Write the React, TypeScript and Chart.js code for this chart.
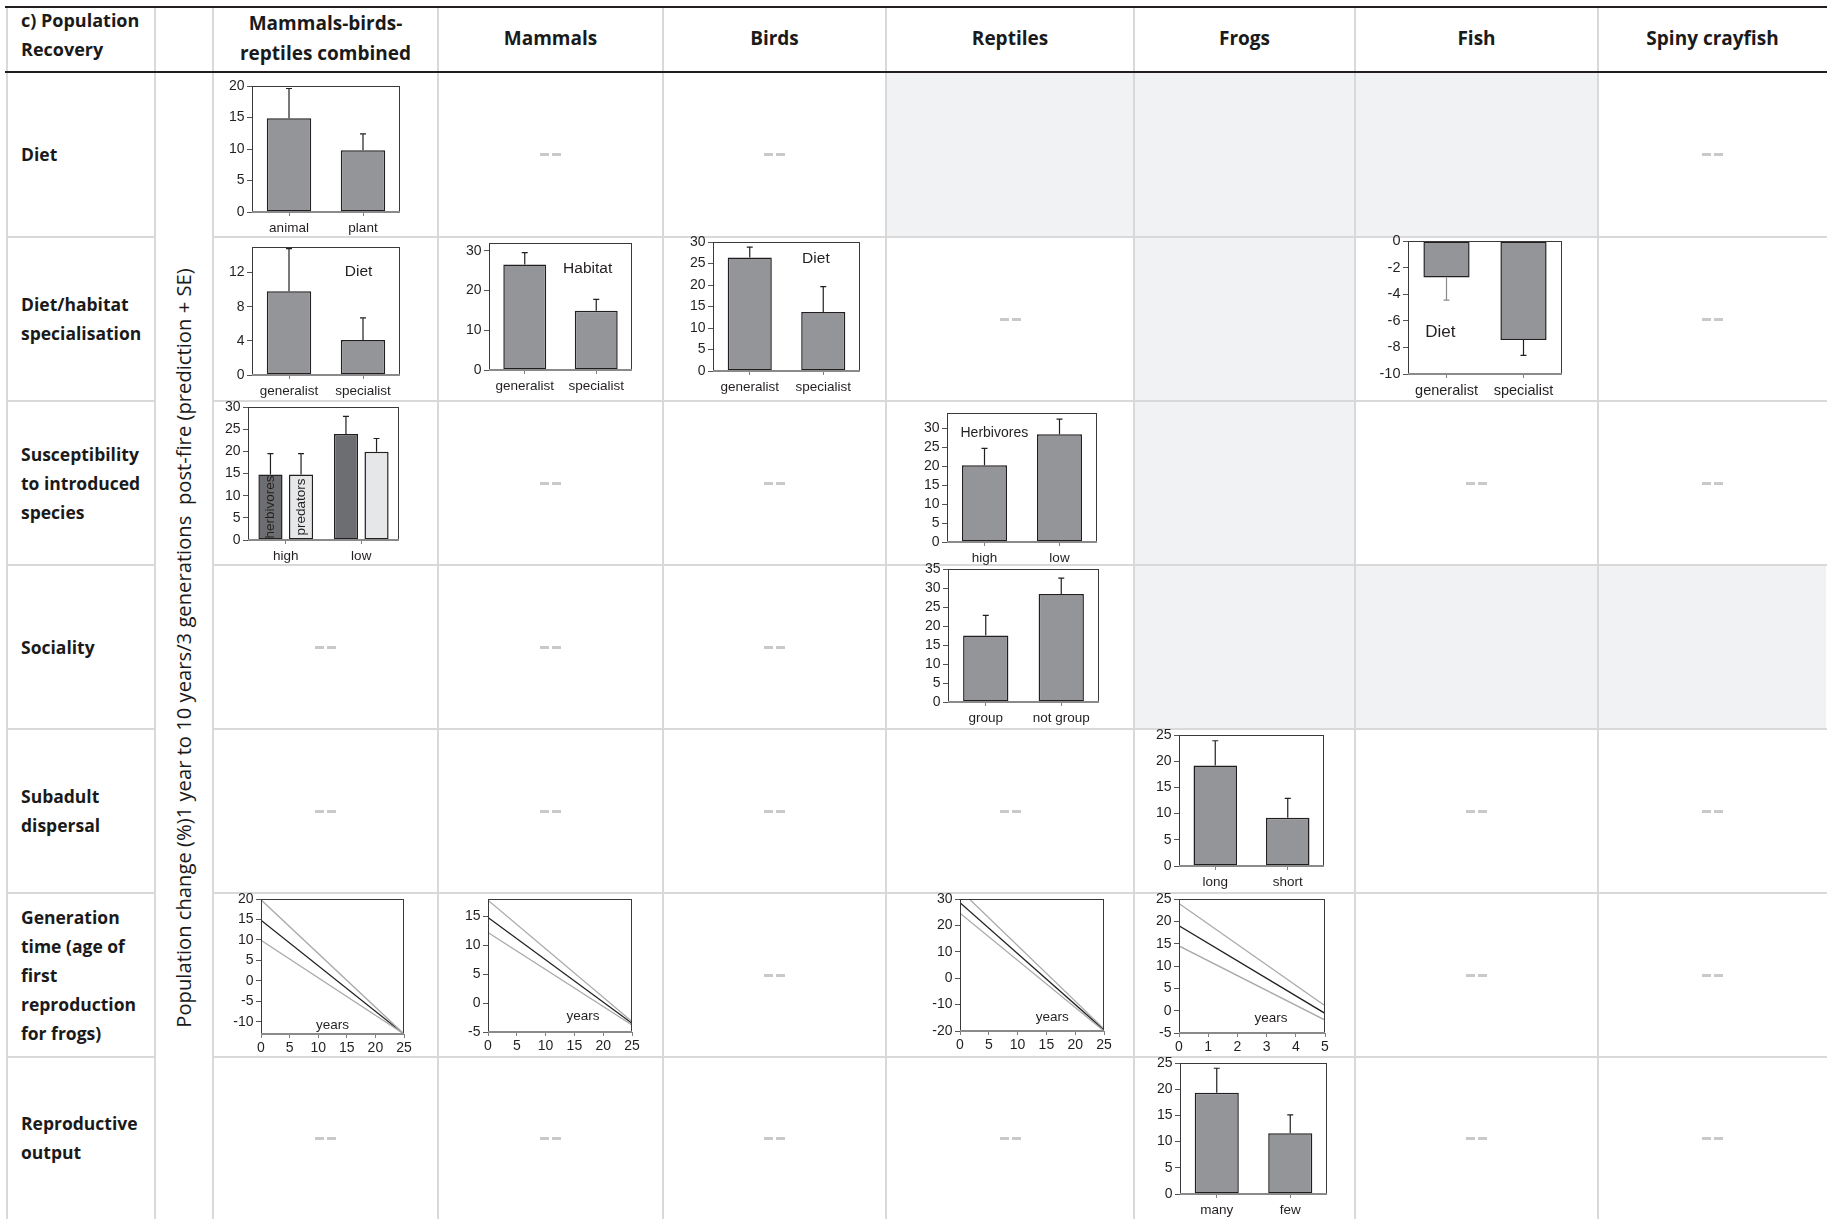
import React, { useEffect, useRef } from 'react';
import { Chart, registerables } from 'chart.js';
Chart.register(...registerables);

// ---------------- table text ----------------
const cornerLabel = 'c) Population\nRecovery';
const columnHeaders = ['Mammals-birds-\nreptiles combined', 'Mammals', 'Birds', 'Reptiles', 'Frogs', 'Fish', 'Spiny crayfish'];
const rowLabels = [
  'Diet',
  'Diet/habitat\nspecialisation',
  'Susceptibility\nto introduced\nspecies',
  'Sociality',
  'Subadult\ndispersal',
  'Generation\ntime (age of\nfirst\nreproduction\nfor frogs)',
  'Reproductive\noutput',
];
const axisTitle = 'Population change (%)1 year to 10 years/3 generations  post-fire (prediction + SE)';
// c = chart, d = no data (dash), s = not applicable (shaded)
const cellKinds = [
  ['c', 'd', 'd', 's', 's', 's', 'd'],
  ['c', 'c', 'c', 'd', 's', 'c', 'd'],
  ['c', 'd', 'd', 'c', 's', 'd', 'd'],
  ['d', 'd', 'd', 'c', 's', 's', 's'],
  ['d', 'd', 'd', 'd', 'c', 'd', 'd'],
  ['c', 'c', 'd', 'c', 'c', 'd', 'd'],
  ['d', 'd', 'd', 'd', 'c', 'd', 'd'],
];

// ---------------- data ----------------
const dietCats = ['animal', 'plant'];
const dietAllMeans = [14.9, 9.8];
const dietAllUpper = [19.6, 12.4];

const specCats = ['generalist', 'specialist'];
const specAllMeans = [9.8, 4.1];
const specAllUpper = [14.8, 6.7];
const specMammalMeans = [26.6, 14.9];
const specMammalUpper = [29.6, 17.8];
const specBirdMeans = [26.4, 13.7];
const specBirdUpper = [28.8, 19.6];
const specFishMeans = [-2.75, -7.45];
const specFishLower = [-4.45, -8.6];

const suscCats = ['high', 'low'];
const suscAllHerbMeans = [14.8, 23.9];
const suscAllHerbUpper = [19.5, 27.9];
const suscAllPredMeans = [14.8, 19.9];
const suscAllPredUpper = [19.5, 22.9];
const suscReptMeans = [20.2, 28.4];
const suscReptUpper = [24.7, 32.4];

const socCats = ['group', 'not group'];
const socReptMeans = [17.5, 28.4];
const socReptUpper = [22.8, 32.6];

const dispCats = ['long', 'short'];
const dispFrogMeans = [19.2, 9.2];
const dispFrogUpper = [23.9, 12.9];

const reproCats = ['many', 'few'];
const reproFrogMeans = [19.3, 11.6];
const reproFrogUpper = [24.0, 15.1];

const genYears25 = [0, 25];
const genYears5 = [0, 5];
const genAllUpper = [19.8, -13];
const genAllMid = [14.8, -13];
const genAllLower = [9.9, -13];
const genMammalUpper = [17.8, -3.2];
const genMammalMid = [14.8, -3.5];
const genMammalLower = [12.2, -3.8];
const genReptUpper = [33.4, -19.2];
const genReptMid = [28.6, -19.6];
const genReptLower = [24.6, -20];
const genFrogUpper = [24.0, 1.1];
const genFrogMid = [19.0, -0.6];
const genFrogLower = [14.5, -2.1];

// tick labels
const ticks0to20 = [0, 5, 10, 15, 20];
const ticks0to12by4 = [0, 4, 8, 12];
const ticks0to30by10 = [0, 10, 20, 30];
const ticks0to30 = [0, 5, 10, 15, 20, 25, 30];
const ticks0to35 = [0, 5, 10, 15, 20, 25, 30, 35];
const ticks0to25 = [0, 5, 10, 15, 20, 25];
const ticksNeg10to0 = [-10, -8, -6, -4, -2, 0];
const ticksNeg10to20 = [-10, -5, 0, 5, 10, 15, 20];
const ticksNeg5to15 = [-5, 0, 5, 10, 15];
const ticksNeg20to30 = [-20, -10, 0, 10, 20, 30];
const ticksNeg5to25 = [-5, 0, 5, 10, 15, 20, 25];
const yearTicks25 = [0, 5, 10, 15, 20, 25];
const yearTicks5 = [0, 1, 2, 3, 4, 5];

// ---------------- layout & style ----------------
const colX = [7, 155, 213, 438, 663, 886, 1134, 1355, 1598, 1827];
const rowY = [72, 237, 401, 565, 729, 893, 1057, 1219];
const CHART_FONT = '"Liberation Sans", Arial, Helvetica, sans-serif';
const TABLE_FONT = '"Open Sans", "Noto Sans", sans-serif';
const GREY = '#939598';
const DARK = '#6d6e71';
const LIGHT = '#e6e7e8';
const INK = '#231f20';
const SOFT = '#a7a9ac';

type BarSet = { data: number[]; err: number[]; fill: string; errColor?: string[] };
type LineSet = { y: number[]; color: string };
type Note = { text: string; fx: number; y: number; size: number; align?: CanvasTextAlign };
type Spec = {
  box: [number, number, number, number];
  kind: 'bar' | 'line';
  labels?: string[];
  bars?: BarSet[];
  xs?: number[];
  lines?: LineSet[];
  yMin: number; yMax: number; yTicks: number[];
  xMin?: number; xMax?: number; xTicks?: number[];
  notes?: Note[];
  barText?: { ds: number; idx: number; text: string; size: number }[];
  fontSize?: number;
  catPct?: number; barPct?: number;
};

const specs: Spec[] = [
  { box: [252, 86, 400, 212], kind: 'bar', labels: dietCats, bars: [{ data: dietAllMeans, err: dietAllUpper, fill: GREY }], yMin: 0, yMax: 20, yTicks: ticks0to20 },
  { box: [252, 247, 400, 375], kind: 'bar', labels: specCats, bars: [{ data: specAllMeans, err: specAllUpper, fill: GREY }], yMin: 0, yMax: 15, yTicks: ticks0to12by4,
    notes: [{ text: 'Diet', fx: 0.72, y: 12.1, size: 15.5 }] },
  { box: [489, 243, 632, 370], kind: 'bar', labels: specCats, bars: [{ data: specMammalMeans, err: specMammalUpper, fill: GREY }], yMin: 0, yMax: 32, yTicks: ticks0to30by10,
    notes: [{ text: 'Habitat', fx: 0.69, y: 25.6, size: 15.5 }] },
  { box: [713, 242, 860, 371], kind: 'bar', labels: specCats, bars: [{ data: specBirdMeans, err: specBirdUpper, fill: GREY }], yMin: 0, yMax: 30, yTicks: ticks0to30,
    notes: [{ text: 'Diet', fx: 0.70, y: 26.2, size: 15.5 }] },
  { box: [1408, 241, 1562, 374], kind: 'bar', labels: specCats, bars: [{ data: specFishMeans, err: specFishLower, fill: GREY, errColor: ['#8a8a8a', INK] }], yMin: -10, yMax: 0, yTicks: ticksNeg10to0,
    notes: [{ text: 'Diet', fx: 0.21, y: -6.85, size: 17 }], fontSize: 14.5 },
  { box: [248, 407, 399, 540], kind: 'bar', labels: suscCats,
    bars: [{ data: suscAllHerbMeans, err: suscAllHerbUpper, fill: DARK }, { data: suscAllPredMeans, err: suscAllPredUpper, fill: LIGHT }],
    yMin: 0, yMax: 30, yTicks: ticks0to30, catPct: 0.81, barPct: 0.79,
    barText: [{ ds: 0, idx: 0, text: 'herbivores', size: 13.5 }, { ds: 1, idx: 0, text: 'predators', size: 13.5 }] },
  { box: [947, 413, 1097, 542], kind: 'bar', labels: suscCats, bars: [{ data: suscReptMeans, err: suscReptUpper, fill: GREY }], yMin: 0, yMax: 34, yTicks: ticks0to30,
    notes: [{ text: 'Herbivores', fx: 0.09, y: 28.8, size: 14, align: 'left' }] },
  { box: [948, 569, 1099, 702], kind: 'bar', labels: socCats, bars: [{ data: socReptMeans, err: socReptUpper, fill: GREY }], yMin: 0, yMax: 35, yTicks: ticks0to35 },
  { box: [1179, 735, 1324, 866], kind: 'bar', labels: dispCats, bars: [{ data: dispFrogMeans, err: dispFrogUpper, fill: GREY }], yMin: 0, yMax: 25, yTicks: ticks0to25 },
  { box: [261, 899, 404, 1034], kind: 'line', xs: genYears25,
    lines: [{ y: genAllUpper, color: SOFT }, { y: genAllLower, color: SOFT }, { y: genAllMid, color: INK }],
    yMin: -13, yMax: 20, yTicks: ticksNeg10to20, xMin: 0, xMax: 25, xTicks: yearTicks25,
    notes: [{ text: 'years', fx: 0.5, y: -10.8, size: 13.5 }] },
  { box: [488, 899, 632, 1032], kind: 'line', xs: genYears25,
    lines: [{ y: genMammalUpper, color: SOFT }, { y: genMammalLower, color: SOFT }, { y: genMammalMid, color: INK }],
    yMin: -5, yMax: 18, yTicks: ticksNeg5to15, xMin: 0, xMax: 25, xTicks: yearTicks25,
    notes: [{ text: 'years', fx: 0.66, y: -2.3, size: 13.5 }] },
  { box: [960, 899, 1104, 1031], kind: 'line', xs: genYears25,
    lines: [{ y: genReptUpper, color: SOFT }, { y: genReptLower, color: SOFT }, { y: genReptMid, color: INK }],
    yMin: -20, yMax: 30, yTicks: ticksNeg20to30, xMin: 0, xMax: 25, xTicks: yearTicks25,
    notes: [{ text: 'years', fx: 0.64, y: -14.8, size: 13.5 }] },
  { box: [1179, 899, 1325, 1033], kind: 'line', xs: genYears5,
    lines: [{ y: genFrogUpper, color: SOFT }, { y: genFrogLower, color: SOFT }, { y: genFrogMid, color: INK }],
    yMin: -5, yMax: 25, yTicks: ticksNeg5to25, xMin: 0, xMax: 5, xTicks: yearTicks5,
    notes: [{ text: 'years', fx: 0.63, y: -1.7, size: 13.5 }] },
  { box: [1180, 1063, 1327, 1194], kind: 'bar', labels: reproCats, bars: [{ data: reproFrogMeans, err: reproFrogUpper, fill: GREY }], yMin: 0, yMax: 25, yTicks: ticks0to25 },
];

const PAD = { l: 46, r: 12, t: 8, b: 30 };

const decorPlugin = {
  id: 'decor',
  afterDatasetsDraw(chart: any, _args: any, opts: any) {
    const ctx = chart.ctx as CanvasRenderingContext2D;
    const a = chart.chartArea;
    const ys = chart.scales.y;
    ctx.save();
    (opts.barText || []).forEach((bt: any) => {
      const el = chart.getDatasetMeta(bt.ds).data[bt.idx];
      const cy = (el.y + el.base) / 2;
      ctx.save();
      ctx.translate(el.x, cy);
      ctx.rotate(-Math.PI / 2);
      ctx.font = `${bt.size}px ${CHART_FONT}`;
      ctx.fillStyle = INK;
      ctx.textAlign = 'center';
      ctx.textBaseline = 'middle';
      ctx.fillText(bt.text, 0, 0);
      ctx.restore();
    });
    // frame
    const L = Math.round(a.left), T = Math.round(a.top), R = Math.round(a.right), B = Math.round(a.bottom);
    ctx.strokeStyle = '#3a3a3a';
    ctx.lineWidth = 1;
    ctx.strokeRect(L + 0.5, T + 0.5, R - L - 1, B - T);
    ctx.strokeStyle = '#8a8a8a';
    ctx.lineWidth = 2;
    ctx.beginPath();
    ctx.moveTo(L, B);
    ctx.lineTo(R, B);
    ctx.stroke();
    // error bars
    (opts.errors || []).forEach((errs: number[], di: number) => {
      const meta = chart.getDatasetMeta(di);
      errs.forEach((ev, i) => {
        const el = meta.data[i];
        const ye = ys.getPixelForValue(ev);
        const cols = opts.errColors ? opts.errColors[di] : null;
        ctx.strokeStyle = (cols && cols[i]) || INK;
        ctx.lineWidth = 1.2;
        ctx.beginPath();
        ctx.moveTo(el.x, el.y);
        ctx.lineTo(el.x, ye);
        ctx.moveTo(el.x - 3, ye);
        ctx.lineTo(el.x + 3, ye);
        ctx.stroke();
      });
    });
    (opts.notes || []).forEach((n: Note) => {
      ctx.font = `${n.size}px ${CHART_FONT}`;
      ctx.fillStyle = INK;
      ctx.textAlign = n.align || 'center';
      ctx.textBaseline = 'middle';
      ctx.fillText(n.text, a.left + n.fx * (a.right - a.left), ys.getPixelForValue(n.y));
    });
    ctx.restore();
  },
};

function buildConfig(s: Spec): any {
  const xFont = { family: CHART_FONT, size: s.fontSize ?? 13.5 };
  const yFont = { family: CHART_FONT, size: s.fontSize ?? 14 };
  const fitY = (ax: any) => { ax.width = PAD.l; ax.paddingTop = 0; ax.paddingBottom = 0; ax.paddingLeft = 0; ax.paddingRight = 0; };
  const fitX = (ax: any) => { ax.height = PAD.b; ax.paddingTop = 0; ax.paddingBottom = 0; ax.paddingLeft = 0; ax.paddingRight = 0; };
  const y = {
    type: 'linear', min: s.yMin, max: s.yMax,
    afterBuildTicks: (ax: any) => { ax.ticks = s.yTicks.map((v) => ({ value: v })); },
    afterFit: fitY,
    grid: { display: true, drawOnChartArea: false, drawTicks: true, tickLength: 5, color: '#555', lineWidth: 1 },
    border: { display: false },
    ticks: { font: yFont, color: INK, padding: 2.5, autoSkip: false, callback: (v: any) => String(v) },
  };
  const common = {
    responsive: false, maintainAspectRatio: false, animation: false, devicePixelRatio: 1, events: [],
    layout: { padding: { left: 0, right: PAD.r, top: PAD.t, bottom: 0 } },
    plugins: {
      legend: { display: false }, tooltip: { enabled: false }, title: { display: false },
      decor: {
        errors: s.bars ? s.bars.map((b) => b.err) : [],
        errColors: s.bars ? s.bars.map((b) => b.errColor || null) : [],
        notes: s.notes || [],
        barText: s.barText || [],
      },
    },
  };
  if (s.kind === 'bar') {
    return {
      type: 'bar',
      data: {
        labels: s.labels,
        datasets: (s.bars || []).map((b) => ({
          data: b.data, backgroundColor: b.fill, borderColor: INK, borderWidth: 1.5, borderSkipped: false,
          categoryPercentage: s.catPct ?? 1, barPercentage: s.barPct ?? 0.6,
        })),
      },
      options: {
        ...common,
        scales: {
          x: {
            type: 'category', offset: true, afterFit: fitX,
            grid: { display: true, drawOnChartArea: false, drawTicks: true, tickLength: 4, offset: false, color: '#7f7f7f' },
            border: { display: false },
            ticks: { font: xFont, color: INK, padding: 4, maxRotation: 0, minRotation: 0, autoSkip: false },
          },
          y,
        },
      },
      plugins: [decorPlugin],
    };
  }
  return {
    type: 'line',
    data: {
      datasets: (s.lines || []).map((l) => ({
        data: (s.xs || []).map((x, i) => ({ x, y: l.y[i] })),
        borderColor: l.color, borderWidth: 1.3, pointRadius: 0, fill: false, tension: 0,
      })),
    },
    options: {
      ...common,
      scales: {
        x: {
          type: 'linear', min: s.xMin, max: s.xMax, afterFit: fitX,
          afterBuildTicks: (ax: any) => { ax.ticks = (s.xTicks || []).map((v) => ({ value: v })); },
          grid: { display: true, drawOnChartArea: false, drawTicks: true, tickLength: 4, color: '#7f7f7f' },
          border: { display: false },
          ticks: { font: yFont, color: INK, padding: 2, maxRotation: 0, minRotation: 0, autoSkip: false, callback: (v: any) => String(v) },
        },
        y,
      },
    },
    plugins: [decorPlugin],
  };
}

function MiniChart({ spec }: { spec: Spec }) {
  const ref = useRef<HTMLCanvasElement>(null);
  const [L, T, R, B] = spec.box;
  const w = R - L + PAD.l + PAD.r;
  const h = B - T + PAD.t + PAD.b;
  useEffect(() => {
    const chart = new Chart(ref.current as HTMLCanvasElement, buildConfig(spec));
    return () => chart.destroy();
  }, []);
  return (
    <canvas ref={ref} width={w} height={h}
      style={{ position: 'absolute', left: L - PAD.l, top: T - PAD.t, width: w, height: h }} />
  );
}

function fitFont(text: string, family: string, target: number) {
  const c = document.createElement('canvas').getContext('2d');
  if (!c) return 20;
  c.font = `100px ${family}`;
  const w = c.measureText(text).width;
  return w > 0 ? (100 * target) / w : 20;
}

export default function App() {
  const axisSize = fitFont(axisTitle, TABLE_FONT, 760);
  const els: React.ReactNode[] = [];
  // shaded & dash cells
  cellKinds.forEach((row, r) => {
    row.forEach((k, c) => {
      const x0 = colX[c + 2], x1 = colX[c + 3], y0 = rowY[r], y1 = rowY[r + 1];
      if (k === 's') {
        els.push(<div key={`s${r}-${c}`} style={{ position: 'absolute', left: x0 + 1, top: y0 + 1, width: x1 - x0 - 2, height: y1 - y0 - 2, background: '#f1f2f4' }} />);
      } else if (k === 'd') {
        const cx = (x0 + x1) / 2, cy = (y0 + y1) / 2;
        els.push(<div key={`d${r}-${c}a`} style={{ position: 'absolute', left: cx - 10.5, top: cy - 1.5, width: 9, height: 3, background: '#c9c9c9' }} />);
        els.push(<div key={`d${r}-${c}b`} style={{ position: 'absolute', left: cx + 1.5, top: cy - 1.5, width: 9, height: 3, background: '#c9c9c9' }} />);
      }
    });
  });
  // grid lines
  colX.slice(0, 9).forEach((x, i) => {
    els.push(<div key={`v${i}`} style={{ position: 'absolute', left: x - 1, top: 7, width: 2, height: 1219 - 7, background: '#d9d9d9' }} />);
  });
  rowY.slice(1, 7).forEach((y, i) => {
    els.push(<div key={`ha${i}`} style={{ position: 'absolute', left: colX[0], top: y - 1, width: colX[1] - colX[0], height: 2, background: '#d9d9d9' }} />);
    els.push(<div key={`hb${i}`} style={{ position: 'absolute', left: colX[2], top: y - 1, width: 1827 - colX[2], height: 2, background: '#d9d9d9' }} />);
  });
  els.push(<div key="top" style={{ position: 'absolute', left: 5, top: 6, width: 1822, height: 2, background: INK }} />);
  els.push(<div key="hdr" style={{ position: 'absolute', left: 5, top: 71, width: 1822, height: 2, background: INK }} />);
  // header texts
  els.push(
    <div key="corner" style={{ position: 'absolute', left: 21, top: 6, fontSize: 18, fontWeight: 700, lineHeight: '29px', whiteSpace: 'pre-line', color: '#1a1a1a' }}>{cornerLabel}</div>
  );
  columnHeaders.forEach((hd, c) => {
    const x0 = colX[c + 2], x1 = colX[c + 3];
    els.push(
      <div key={`ch${c}`} style={{ position: 'absolute', left: x0, top: 6, width: x1 - x0, height: 63, display: 'flex', alignItems: 'center', justifyContent: 'center', textAlign: 'center', fontSize: 19, fontWeight: 700, lineHeight: '30px', whiteSpace: 'pre-line', color: '#1a1a1a' }}>{hd}</div>
    );
  });
  rowLabels.forEach((lb, r) => {
    els.push(
      <div key={`rl${r}`} style={{ position: 'absolute', left: 21, top: rowY[r], width: 130, height: rowY[r + 1] - rowY[r], display: 'flex', alignItems: 'center', fontSize: 17.5, fontWeight: 700, lineHeight: '29px', whiteSpace: 'pre-line', color: '#1a1a1a' }}>{lb}</div>
    );
  });
  els.push(
    <div key="axis" style={{ position: 'absolute', left: 183, top: 648, transform: 'translate(-50%, -50%) rotate(-90deg)', whiteSpace: 'pre', fontSize: axisSize, lineHeight: 1, color: '#1a1a1a' }}>{axisTitle}</div>
  );
  return (
    <div style={{ position: 'absolute', left: 0, top: 0, width: 1827, height: 1219, overflow: 'hidden', background: '#ffffff', fontFamily: TABLE_FONT }}>
      {els}
      {specs.map((s, i) => <MiniChart key={`c${i}`} spec={s} />)}
    </div>
  );
}
